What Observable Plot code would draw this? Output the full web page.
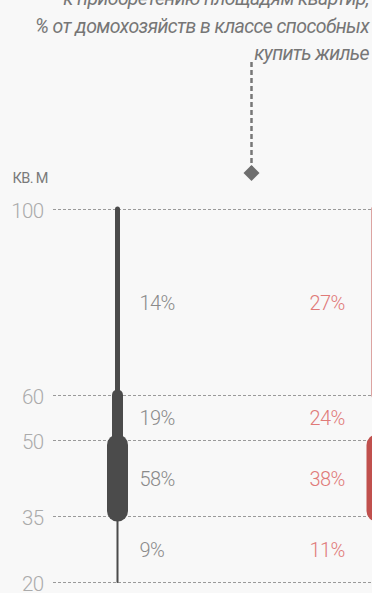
<!DOCTYPE html>
<html><head><meta charset="utf-8">
<script src="https://cdn.jsdelivr.net/npm/d3@7"></script>
<script src="https://cdn.jsdelivr.net/npm/@observablehq/plot@0.6"></script>
<style>
html,body{margin:0;padding:0;background:#f8f8f8;width:372px;height:593px;overflow:hidden;position:relative}
#title{position:absolute;right:3px;top:-15px;text-align:right;font-family:Roboto,sans-serif;font-style:italic;font-size:19.5px;letter-spacing:-0.58px;line-height:27.5px;color:#767676;white-space:nowrap;z-index:1}
#chart{position:absolute;left:0;top:0}
.chart text{letter-spacing:-0.6px}
</style></head><body>
<div id="title">к приобретению площадям квартир,<br>% от домохозяйств в классе способных<br>купить жилье</div>
<div id="chart"></div>
<script>
// ---- data ----
const areaBreaks = [20, 35, 50, 60, 100];          // кв. м, segment boundaries / tick labels
const groups = ["группа 1", "группа 2"];
const shares1 = [9, 58, 19, 14];                    // % for 20–35, 35–50, 50–60, 60–100
const shares2 = [11, 38, 24, 27];
const unitLabel = "КВ. М";

// ---- styling ----
const W = 372, H = 593;
const barColors = ["#4b4b4b", "#c0504d"];
const labelColors = ["#8a8a8a", "#e07a78"];
const widthByRank = [21, 11, 5, 2];
const capInsetByRank = [5, 0, 0, 0];
const labelDx = [22, -67.5];

const segments = [];
[shares1, shares2].forEach((shares, g) => {
  const order = d3.sort(d3.range(shares.length), i => -shares[i]);
  shares.forEach((s, i) => segments.push({
    group: groups[g], gi: g, from: areaBreaks[i], to: areaBreaks[i + 1],
    share: s, rank: order.indexOf(i)
  }));
});

const marks = [
  Plot.ruleY(areaBreaks, {y: d => d, stroke: "#9a9a9a", strokeWidth: 1, strokeDasharray: "3,2", insetLeft: 53}),
  Plot.text(areaBreaks, {y: d => d, text: d => String(d), frameAnchor: "left", textAnchor: "end", dx: 43, dy: 1.5,
    fill: "#ababab", fontSize: 20.5, fontWeight: 300}),
  Plot.text([unitLabel], {text: d => d, frameAnchor: "top-left", textAnchor: "start", lineAnchor: "bottom",
    dx: 12, dy: 182, fill: "#7a7a7a", fontSize: 14.5})
];

groups.forEach((gname, g) => {
  for (let r = 3; r >= 0; r--) {
    marks.push(Plot.ruleX(segments.filter(d => d.gi === g && d.rank === r), {
      x: "group", y1: "to", y2: "from", stroke: barColors[g], strokeWidth: widthByRank[r],
      strokeLinecap: "round", insetTop: capInsetByRank[r], insetBottom: capInsetByRank[r]
    }));
  }
  marks.push(Plot.text(segments.filter(d => d.gi === g), {
    x: "group", y: d => (d.from + d.to) / 2, text: d => d.share + "%", textAnchor: "start",
    dx: labelDx[g], dy: 1, fill: labelColors[g], fontSize: 20, fontWeight: 300
  }));
});

// annotation pointer
marks.push(Plot.ruleX([0], {x: () => groups[1], dx: -125.5, insetTop: 62, insetBottom: H - 170,
  stroke: "#777", strokeWidth: 2.5, strokeDasharray: "5,3"}));
marks.push(Plot.dot([0], {x: () => groups[1], dx: -125.5, frameAnchor: "top", dy: 172.5,
  symbol: d3.symbolDiamond2 || d3.symbolSquare, r: 7.2, fill: "#6e6e6e", stroke: "none"}));

const chart = Plot.plot({
  width: W, height: H,
  marginTop: 0, marginRight: 0, marginBottom: 0, marginLeft: 0,
  className: "chart",
  style: {background: "#f8f8f8", fontFamily: "Roboto, sans-serif", overflow: "hidden"},
  x: {type: "point", domain: groups, range: [117, 376.5], padding: 0, round: false, axis: null},
  y: {type: "linear", domain: areaBreaks, range: [582, 516, 440, 395, 209], axis: null},
  marks
});
document.getElementById("chart").appendChild(chart);
</script>
</body></html>
